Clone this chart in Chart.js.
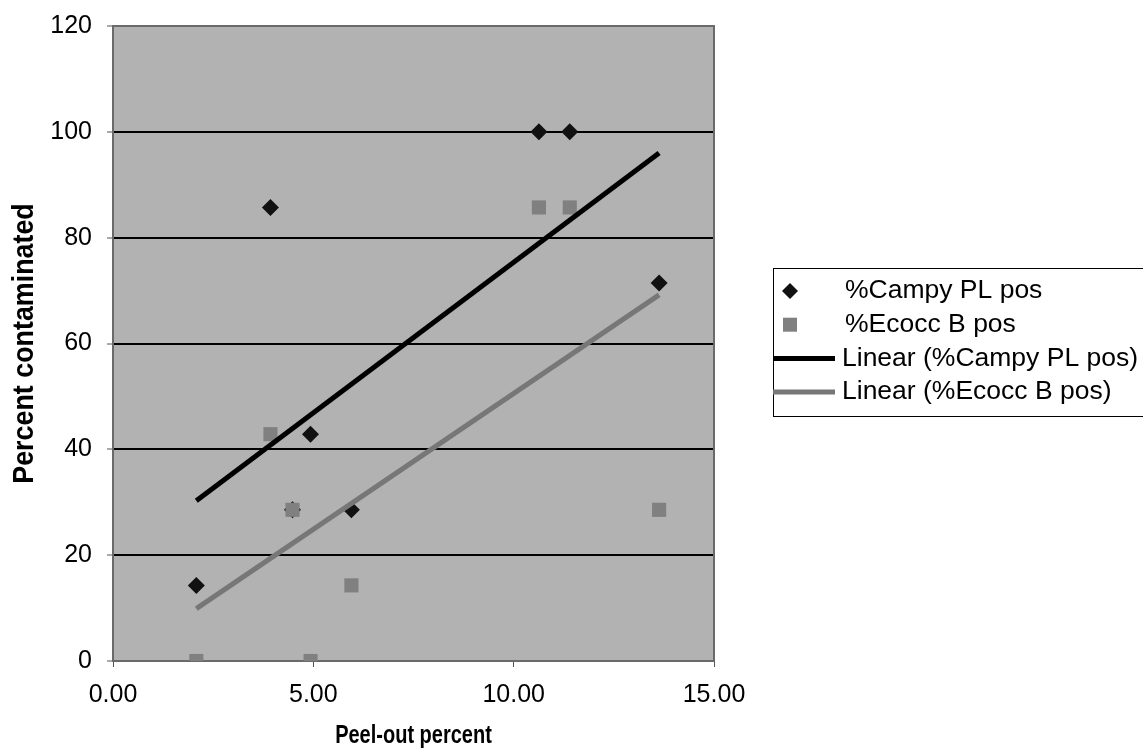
<!DOCTYPE html>
<html>
<head>
<meta charset="utf-8">
<script src="https://cdn.jsdelivr.net/npm/chart.js@4.4.1/dist/chart.umd.min.js"></script>
<style>
html,body{margin:0;padding:0;background:#fff;}
#wrap{width:1143px;height:752px;position:relative;}
</style>
</head>
<body>
<div id="wrap"><canvas id="c" width="1143" height="752"></canvas></div>
<script>
// Data
const peelOut   = [2.08, 3.93, 4.48, 4.93, 5.95, 10.63, 11.40, 13.63];
const campyPos  = [14.29, 85.71, 28.57, 42.86, 28.57, 100, 100, 71.43];
const ecoccPos  = [0, 42.86, 28.57, 0, 14.29, 85.71, 85.71, 28.57];
const trendX     = [2.08, 13.63];
const campyTrend = [30.3, 96.0];
const ecoccTrend = [9.9, 69.2];
const seriesNames = ['%Campy PL pos', '%Ecocc B pos', 'Linear (%Campy PL pos)', 'Linear (%Ecocc B pos)'];
const xTitle = 'Peel-out percent';
const yTitle = 'Percent contaminated';

const FONT = "'Liberation Sans', Arial, sans-serif";
const pts = (xs, ys) => xs.map((x, i) => ({x: x, y: ys[i]}));

const bgPlugin = {
  id: 'bg',
  beforeDraw(chart) {
    const {ctx, chartArea: a} = chart;
    ctx.save();
    ctx.fillStyle = '#b2b2b2';
    ctx.fillRect(a.left, a.top, a.right - a.left, a.bottom - a.top);
    ctx.restore();
  },
  beforeDatasetsDraw(chart) {
    const {ctx, chartArea: a} = chart;
    ctx.save();
    ctx.strokeStyle = '#6a6a6a';
    ctx.lineWidth = 2;
    ctx.strokeRect(a.left, a.top, a.right - a.left, a.bottom - a.top);
    ctx.restore();
  }
};

// Axis titles in a condensed bold face (horizontally scaled real text)
const titlePlugin = {
  id: 'axisTitles',
  afterDraw(chart) {
    const {ctx, chartArea: a} = chart;
    ctx.save();
    ctx.fillStyle = '#000';
    ctx.textAlign = 'center';
    ctx.textBaseline = 'alphabetic';
    ctx.save();
    ctx.translate((a.left + a.right) / 2, 743);
    ctx.scale(0.8, 1);
    ctx.font = 'bold 25px ' + FONT;
    ctx.fillText(xTitle, 0, 0);
    ctx.restore();
    ctx.save();
    ctx.translate(33, (a.top + a.bottom) / 2);
    ctx.rotate(-Math.PI / 2);
    ctx.scale(0.895, 1);
    ctx.font = 'bold 30px ' + FONT;
    ctx.fillText(yTitle, 0, 0);
    ctx.restore();
    ctx.restore();
  }
};

const legendPlugin = {
  id: 'customLegend',
  afterDraw(chart) {
    const {ctx, chartArea: a} = chart;
    const left = a.right + 59, top = 268, rowH = 33.7, firstY = 291;
    ctx.save();
    ctx.strokeStyle = '#000';
    ctx.lineWidth = 1;
    ctx.strokeRect(left + 0.5, top + 0.5, 400, 148);
    ctx.font = '26.5px ' + FONT;
    ctx.textBaseline = 'middle';
    ctx.textAlign = 'left';
    const textX = left + 72;
    let y = firstY;
    ctx.fillStyle = '#111';
    ctx.beginPath();
    ctx.moveTo(left + 17, y - 8); ctx.lineTo(left + 25, y); ctx.lineTo(left + 17, y + 8); ctx.lineTo(left + 9, y);
    ctx.closePath(); ctx.fill();
    ctx.fillStyle = '#000';
    ctx.fillText(seriesNames[0], textX, y);
    y = firstY + rowH;
    ctx.fillStyle = '#808080';
    ctx.fillRect(left + 10, y - 7, 14, 14);
    ctx.fillStyle = '#000';
    ctx.fillText(seriesNames[1], textX, y);
    y = firstY + 2 * rowH;
    ctx.strokeStyle = '#000'; ctx.lineWidth = 5;
    ctx.beginPath(); ctx.moveTo(left, y); ctx.lineTo(left + 62, y); ctx.stroke();
    ctx.fillText(seriesNames[2], left + 69, y);
    y = firstY + 3 * rowH;
    ctx.strokeStyle = '#777'; ctx.lineWidth = 5;
    ctx.beginPath(); ctx.moveTo(left, y); ctx.lineTo(left + 62, y); ctx.stroke();
    ctx.fillText(seriesNames[3], left + 69, y);
    ctx.restore();
  }
};

new Chart(document.getElementById('c'), {
  type: 'scatter',
  data: {
    datasets: [
      {
        label: seriesNames[2], type: 'line', data: pts(trendX, campyTrend),
        borderColor: '#000', borderWidth: 5, pointRadius: 0, fill: false, order: -2, borderCapStyle: 'butt'
      },
      {
        label: seriesNames[3], type: 'line', data: pts(trendX, ecoccTrend),
        borderColor: '#777', borderWidth: 5, pointRadius: 0, fill: false, order: -1, borderCapStyle: 'butt'
      },
      {
        label: seriesNames[1], data: pts(peelOut, ecoccPos), pointStyle: 'rect',
        pointRadius: 10, backgroundColor: '#808080', borderColor: '#808080', borderWidth: 0, order: 0
      },
      {
        label: seriesNames[0], data: pts(peelOut, campyPos), pointStyle: 'rectRot',
        pointRadius: 8.5, backgroundColor: '#111', borderColor: '#111', borderWidth: 0, order: 1
      }
    ]
  },
  options: {
    responsive: false,
    animation: false,
    devicePixelRatio: 1,
    layout: { padding: { left: 0, top: 26, right: 429, bottom: 0 } },
    plugins: { legend: { display: false }, tooltip: { enabled: false } },
    scales: {
      x: {
        type: 'linear', min: 0, max: 15,
        afterFit(s) { s.height = 91; },
        ticks: { stepSize: 5, color: '#000', padding: 13, font: { size: 25, family: FONT },
                 callback: v => Number(v).toFixed(2), maxRotation: 0 },
        grid: { drawOnChartArea: false, drawTicks: true, tickLength: 6, tickColor: '#555', tickWidth: 1 },
        border: { display: false },
        title: { display: false }
      },
      y: {
        type: 'linear', min: 0, max: 120,
        afterFit(s) { s.width = 113; s.paddingTop = 0; s.paddingBottom = 0; },
        ticks: { stepSize: 20, color: '#000', padding: 15, font: { size: 25, family: FONT } },
        grid: {
          color: c => (c.tick && (c.tick.value === 0 || c.tick.value === 120)) ? 'rgba(0,0,0,0)' : '#000',
          lineWidth: 2, drawTicks: true, tickLength: 6, tickColor: '#555', tickWidth: 1
        },
        border: { display: false },
        title: { display: false }
      }
    }
  },
  plugins: [bgPlugin, titlePlugin, legendPlugin]
});
</script>
</body>
</html>
